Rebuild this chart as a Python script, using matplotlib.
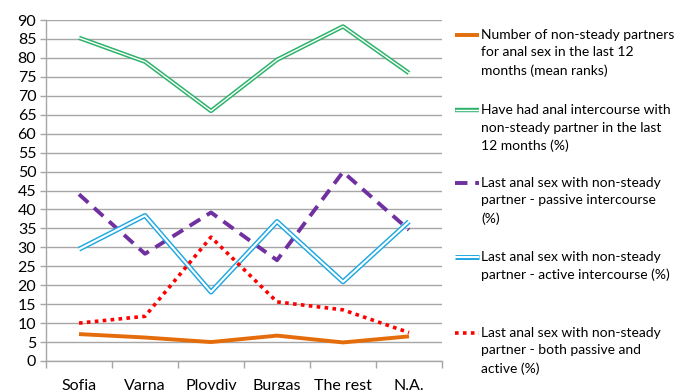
import matplotlib
matplotlib.use("Agg")
import matplotlib.pyplot as plt
from matplotlib.lines import Line2D
import matplotlib.patheffects as pe

plt.rcParams['font.family'] = ['Lato', 'DejaVu Sans']

categories = ["Sofia", "Varna", "Plovdiv", "Burgas", "The rest", "N.A."]
mean_ranks = [7.1, 6.2, 5.0, 6.7, 4.9, 6.5]
had_anal = [85.3, 79.0, 66.0, 79.5, 88.3, 76.0]
passive = [44.0, 28.3, 39.2, 26.6, 49.9, 34.6]
active = [29.5, 38.4, 18.2, 36.8, 20.9, 36.8]
both = [10.0, 11.8, 32.7, 15.6, 13.5, 7.5]

labels = [
    "Number of non-steady partners\nfor anal sex in the last 12\nmonths (mean ranks)",
    "Have had anal intercourse with\nnon-steady partner in the last\n12 months (%)",
    "Last anal sex with non-steady\npartner - passive intercourse\n(%)",
    "Last anal sex with non-steady\npartner - active intercourse (%)",
    "Last anal sex with non-steady\npartner - both passive and\nactive (%)",
]

W, H = 691, 390
fig = plt.figure(figsize=(W / 100, H / 100), dpi=100)
ax = fig.add_axes([46 / W, 1 - 361 / H, (442 - 46) / W, (361 - 20) / H])

x = list(range(len(categories)))
orange = "#E46C0A"
green = "#2DB36A"
purple = "#7030A0"
blue = "#1FA8E0"
red = "#FF0000"


def double(color, outer, inner):
    return dict(color="white", lw=inner, solid_capstyle="butt",
                path_effects=[pe.Stroke(linewidth=outer, foreground=color), pe.Normal()])


styles = [
    dict(color=orange, lw=2.8, solid_capstyle="butt"),
    double(green, 3.2, 1.0),
    dict(color=purple, lw=2.8, linestyle=(0, (3.2, 2.0)), dash_capstyle="butt"),
    double(blue, 3.6, 1.5),
    dict(color=red, lw=2.6, linestyle=(0, (1.0, 1.2)), dash_capstyle="butt"),
]
series = [mean_ranks, had_anal, passive, active, both]

for vals, st in zip(series, styles):
    ax.plot(x, vals, zorder=3, **st)

ax.set_xlim(-0.5, len(categories) - 0.5)
ax.set_ylim(0, 90)
ax.set_yticks(range(0, 91, 5))
ax.grid(axis="y", color="#A6A6A6", lw=1.0)
ax.set_axisbelow(True)
for s in ["top", "right"]:
    ax.spines[s].set_visible(False)
for s in ["left", "bottom"]:
    ax.spines[s].set_color("#A6A6A6")
    ax.spines[s].set_linewidth(1.0)

ax.set_xticks(x)
ax.set_xticklabels(categories, fontsize=11.5)
ax.tick_params(axis="x", length=0, pad=13)
ax.set_xticks([i - 0.5 for i in range(len(categories) + 1)], minor=True)
ax.tick_params(axis="x", which="minor", length=5, color="#A6A6A6", width=1.0)
ax.tick_params(axis="y", length=4, color="#A6A6A6", width=1.0, labelsize=11.5, pad=3)

# Legend drawn by hand on the right
legend_ys = [35, 110, 183, 257, 333]
for lab, st, yy in zip(labels, styles, legend_ys):
    yf = 1 - yy / H
    ln = Line2D([455 / W, 479 / W], [yf, yf], transform=fig.transFigure, **st)
    fig.add_artist(ln)
    fig.text(481 / W, 1 - (yy - 6) / H, lab, fontsize=10, va="top", ha="left",
             linespacing=1.55, transform=fig.transFigure)

fig.savefig("out.png", dpi=100)
